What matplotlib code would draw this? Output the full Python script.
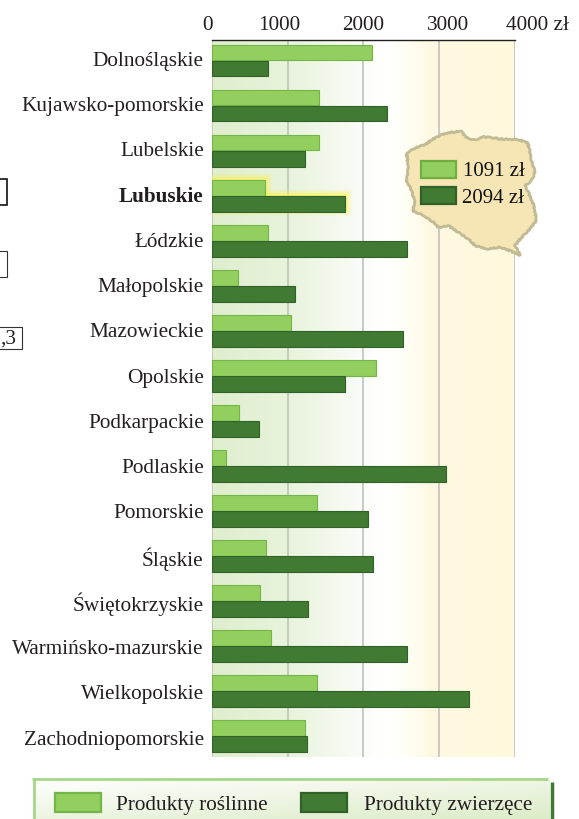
import numpy as np
import matplotlib
matplotlib.use("Agg")
import matplotlib.pyplot as plt
from matplotlib.colors import LinearSegmentedColormap
from matplotlib.patches import Rectangle, Polygon
from matplotlib.transforms import ScaledTranslation

plt.rcParams['font.family'] = ['Liberation Serif', 'DejaVu Serif']

regions = ["Dolnośląskie", "Kujawsko-pomorskie", "Lubelskie", "Lubuskie", "Łódzkie",
           "Małopolskie", "Mazowieckie", "Opolskie", "Podkarpackie", "Podlaskie",
           "Pomorskie", "Śląskie", "Świętokrzyskie", "Warmińsko-mazurskie",
           "Wielkopolskie", "Zachodniopomorskie"]
plant = [2115, 1415, 1415, 700, 745, 350, 1045, 2170, 360, 185, 1390, 715, 635, 780, 1390, 1235]
animal = [740, 2315, 1230, 1760, 2580, 1100, 2530, 1760, 620, 3095, 2065, 2130, 1270, 2580, 3400, 1255]
ticks = [0, 1000, 2000, 3000, 4000]
tick_labels = ["0", "1000", "2000", "3000", "4000 zł"]

LIGHT, LIGHT_E = "#92cf5f", "#74b548"
DARK, DARK_E = "#417a32", "#2f6128"
TXT = "#231f20"
W, H = 579, 820
FS = 15.3

fig = plt.figure(figsize=(W / 100, H / 100), dpi=100, facecolor="white")
ax = fig.add_axes([212 / W, 1 - 758.3 / H, 302.5 / W, 717.8 / H])
ax.set_xlim(0, 4000)
ax.set_ylim(15.47, -0.466)

# background gradient
cmap = LinearSegmentedColormap.from_list("bg", [
    (0.0, "#dfeecd"), (0.25, "#e8f3dc"), (0.45, "#f7faf2"), (0.55, "#ffffff"),
    (0.62, "#fffffa"), (0.72, "#fff9e3"), (1.0, "#fef8dc")])
ax.imshow(np.linspace(0, 1, 256).reshape(1, -1), extent=[0, 4000, 15.47, -0.466],
          aspect="auto", cmap=cmap, zorder=0)

for t in ticks:
    ax.axvline(t, color="#bdbdb8", lw=1.1, zorder=1)

y = np.arange(len(regions))
offset, h = 0.178, 0.352

# soft glow for highlighted region, slightly up and to the right
idx = regions.index("Lubuskie")
for lw, a in [(8, 0.07), (6.5, 0.1), (5, 0.14), (3.5, 0.18), (2, 0.25)]:
    ax.barh(idx - offset - 0.03, plant[idx] + 15, h, color="#f8f560", edgecolor="#f8f560", lw=lw, alpha=a, zorder=2)
    ax.barh(idx + offset - 0.03, animal[idx] + 15, h, color="#f8f560", edgecolor="#f8f560", lw=lw, alpha=a, zorder=2)

ax.barh(y - offset, plant, h, color=LIGHT, edgecolor=LIGHT_E, lw=0.8, zorder=3)
ax.barh(y + offset, animal, h, color=DARK, edgecolor=DARK_E, lw=0.8, zorder=3)

for s in ["left", "right", "bottom"]:
    ax.spines[s].set_visible(False)
ax.spines["top"].set_color("#231f20")
ax.spines["top"].set_linewidth(1.0)
ax.xaxis.tick_top()
ax.set_xticks(ticks, tick_labels)
ax.tick_params(axis="x", length=0, pad=4, labelsize=FS, labelcolor=TXT)
# tick label offsets (in px) as in the reference
shifts = [-4.5, -8.5, 0, 9.5, 0]
for lbl, sh in zip(ax.get_xticklabels(), shifts):
    lbl.set_transform(lbl.get_transform() + ScaledTranslation(sh / 100, 0, fig.dpi_scale_trans))
last = ax.get_xticklabels()[-1]
last.set_ha("left")
last.set_transform(last.get_transform() + ScaledTranslation(-8.5 / 100, 0, fig.dpi_scale_trans))

ax.set_yticks(y, regions)
ax.tick_params(axis="y", length=0, pad=6, labelsize=FS, labelcolor=TXT)
for i, (lbl, r) in enumerate(zip(ax.get_yticklabels(), regions)):
    lbl.set_transform(lbl.get_transform() + ScaledTranslation(0, (2.5 - 0.2 * i) / 100, fig.dpi_scale_trans))
    if r == "Lubuskie":
        lbl.set_fontweight("bold")

# overlay in pixel coordinates for decoration
ov = fig.add_axes([0, 0, 1, 1], facecolor="none")
ov.axis("off")

# map of Poland (decorative)
zoom_outline = [(20,88),(45,72),(75,62),(100,45),(125,32),(155,25),(183,22),(195,35),(205,45),(225,48),
                (250,38),(300,45),(355,47),(382,55),(388,75),(392,100),(405,145),(395,170),(375,185),
                (385,205),(400,240),(410,290),(385,320),(360,345),(345,365),(362,395),(330,380),(300,370),
                (260,375),(225,365),(205,345),(175,325),(145,305),(115,310),(100,295),(85,285),(60,270),
                (38,260),(45,235),(35,200),(20,170),(25,130)]
outline = [(400 + a / 3, 125 + b / 3) for a, b in zoom_outline]
poly = Polygon(outline, closed=True, facecolor="#f6e5b5", edgecolor="#c0bb94", lw=2.0, zorder=5)
poly.set_sketch_params(scale=0.5, length=6, randomness=4)
ov.add_patch(poly)
ov.add_patch(Rectangle((420.5, 161.5), 35, 17.5, facecolor=LIGHT, edgecolor="#6fae3f", lw=1.6, zorder=6))
ov.add_patch(Rectangle((420.5, 187.5), 35, 17.5, facecolor=DARK, edgecolor=DARK_E, lw=1.6, zorder=6))
ov.text(463, 172, "1091 zł", fontsize=15, color="#111111", va="center", ha="left", zorder=6)
ov.text(461.5, 198.5, "2094 zł", fontsize=15, color="#111111", va="center", ha="left", zorder=6)

# cropped boxes on the left edge
ov.add_patch(Rectangle((-3, 180), 10, 26, facecolor="white", edgecolor="#111111", lw=1.2))
ov.add_patch(Rectangle((-3, 252), 10, 26, facecolor="white", edgecolor="#333333", lw=0.8))
ov.add_patch(Rectangle((-3, 328), 25, 22, facecolor="white", edgecolor="#333333", lw=0.8))
ov.text(8, 339, ",3", fontsize=FS, color=TXT, va="center", ha="center")

# bottom legend
lg_cmap = LinearSegmentedColormap.from_list("lg", ["#ffffff", "#dcecc8"])
gx, gy = np.meshgrid(np.linspace(0, 1, 128), np.linspace(0, 1, 32))
ov.imshow(0.45 * gx + 0.55 * gy, extent=[33, 550, 820, 779], aspect="auto", cmap=lg_cmap, zorder=1)
ov.plot([32, 548], [779.5, 779.5], color="#a6d78a", lw=2.0, zorder=2, solid_capstyle="butt")
ov.plot([33.5, 33.5], [779, 820], color="#a6d78a", lw=2.0, zorder=2, solid_capstyle="butt")
ov.plot([552, 552], [783, 820], color=DARK, lw=2.5, zorder=2, solid_capstyle="butt")
ov.add_patch(Rectangle((55, 794), 46, 19, facecolor=LIGHT, edgecolor=LIGHT_E, lw=1.6, zorder=3))
ov.add_patch(Rectangle((301, 794), 46, 19, facecolor=DARK, edgecolor=DARK_E, lw=1.6, zorder=3))
ov.text(116, 806, "Produkty roślinne", fontsize=FS, color=TXT, va="center", ha="left", zorder=3)
ov.text(364, 806, "Produkty zwierzęce", fontsize=FS, color=TXT, va="center", ha="left", zorder=3)
ov.set_xlim(0, W)
ov.set_ylim(H, 0)

fig.savefig("out.png", dpi=100)
